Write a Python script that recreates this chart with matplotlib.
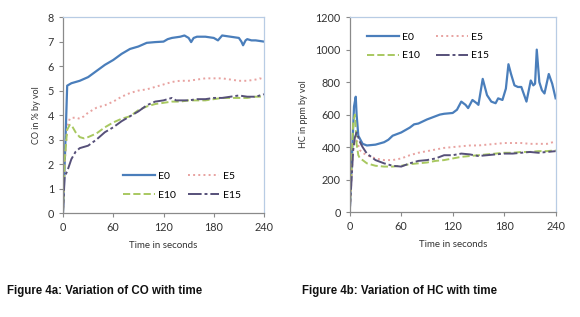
import matplotlib.pyplot as plt

# CO data (% by vol)
co_t_e0 = [0, 3, 5, 10, 20, 30, 40, 50, 60, 70, 80, 90, 100, 110, 120, 125, 130, 140, 145, 150, 153, 156, 160,
           170, 180, 185, 190, 200, 210, 213, 215, 218, 220, 225, 230, 240]
co_e0 = [0, 3.0, 5.2, 5.3, 5.4, 5.55, 5.8, 6.05, 6.25, 6.5, 6.7, 6.8, 6.95, 6.98, 7.0, 7.1, 7.15, 7.2, 7.25, 7.15, 6.98, 7.15, 7.2,
         7.2, 7.15, 7.05, 7.25, 7.2, 7.15, 7.0, 6.85, 7.05, 7.1, 7.05, 7.05, 7.0]
co_t = [0, 2, 5, 8, 10, 15, 20, 25, 30, 40, 50, 60, 70, 80, 90, 100, 110, 120, 130, 135, 140, 150, 160, 170, 180,
        190, 200, 210, 220, 230, 235, 240]
co_e5 = [0, 2.0, 3.5, 3.85, 3.88, 3.9, 3.85, 3.95, 4.1, 4.3, 4.4, 4.55, 4.75, 4.9, 5.0, 5.05, 5.15, 5.25, 5.35, 5.38, 5.4,
         5.4, 5.45, 5.5, 5.5, 5.5, 5.45, 5.4, 5.4, 5.45, 5.5, 5.45]
co_e10 = [0, 2.2, 3.4, 3.6, 3.6, 3.3, 3.1, 3.05, 3.1, 3.25, 3.5, 3.7, 3.85, 3.95, 4.2, 4.35, 4.45, 4.5, 4.55, 4.55, 4.55,
          4.6, 4.6, 4.6, 4.65, 4.7, 4.7, 4.7, 4.7, 4.75, 4.75, 4.75]
co_e15 = [0, 1.5, 1.7, 2.0, 2.2, 2.5, 2.65, 2.7, 2.75, 3.0, 3.3, 3.5, 3.75, 3.95, 4.15, 4.4, 4.55, 4.6, 4.7, 4.6, 4.6,
          4.6, 4.65, 4.65, 4.7, 4.7, 4.75, 4.8, 4.75, 4.75, 4.8, 4.85]

# HC data (ppm by vol)
hc_t_e0 = [0, 3, 5, 7, 8, 10, 15, 20, 30, 40, 45, 50, 60, 70, 75, 80, 90, 100, 105, 110, 120, 125, 130, 135, 138,
           143, 148, 150, 155, 160, 165, 170, 173, 178, 182, 185, 188, 192, 196, 200, 206, 211, 214, 216, 218, 221,
           224, 227, 232, 236, 240]
hc_e0 = [0, 400, 650, 710, 600, 470, 420, 410, 415, 430, 445, 470, 490, 520, 540, 545, 570, 590, 600, 605, 610, 630,
         680, 660, 640, 690, 670, 660, 820, 720, 680, 670, 700, 690, 760, 910, 850, 780, 770, 770, 680, 810, 780,
         790, 1000, 800, 750, 730, 850, 790, 700]
hc_t = [0, 4, 6, 8, 10, 12, 15, 20, 30, 40, 50, 60, 70, 80, 90, 100, 110, 120, 130, 140, 150, 160, 170, 180, 190,
        200, 210, 220, 230, 240]
hc_e5 = [0, 400, 430, 440, 410, 380, 365, 350, 330, 320, 320, 330, 350, 365, 375, 385, 395, 400, 405, 410, 410, 415,
         420, 425, 425, 425, 420, 420, 420, 435]
hc_e10 = [0, 550, 600, 420, 350, 330, 320, 300, 285, 280, 280, 285, 295, 300, 305, 315, 320, 330, 340, 345, 350, 355,
          360, 365, 365, 370, 370, 375, 375, 380]
hc_e15 = [0, 380, 460, 490, 460, 430, 400, 360, 320, 300, 285, 280, 300, 315, 320, 330, 350, 350, 360, 355, 345, 350,
          355, 360, 360, 365, 370, 365, 370, 375]

labels = ['E0', 'E5', 'E10', 'E15']
colors = ['#4a7ebb', '#e8a2a0', '#a8c860', '#565079']
styles = ['-', ':', '--', (0, (7, 1.5, 1.5, 1.5))]

plt.rcParams['font.family'] = ['Lato', 'DejaVu Sans']

fig = plt.figure(figsize=(5.8, 3.17), dpi=100)
ax1 = fig.add_axes([0.1086, 0.328, 0.3466, 0.618])
ax2 = fig.add_axes([0.603, 0.331, 0.355, 0.615])


def style_axes(ax):
    for s in ['top', 'right']:
        ax.spines[s].set_color('#b8cce4')
    for s in ['left', 'bottom']:
        ax.spines[s].set_color('#8a8a8a')
    for s in ax.spines.values():
        s.set_linewidth(0.9)
    ax.tick_params(labelsize=7.8, colors='#8a8a8a', labelcolor='#333333', length=3, width=0.8)
    ax.set_xlim(0, 240)
    ax.set_xticks([0, 60, 120, 180, 240])
    ax.set_xlabel('Time in seconds', fontsize=7, color='#333333', labelpad=6)


def draw(ax, t0, y0, t, ys):
    out = [ax.plot(t0, y0, linestyle=styles[0], color=colors[0], lw=1.6, label=labels[0])[0]]
    for i, y in enumerate(ys, start=1):
        out.append(ax.plot(t, y, linestyle=styles[i], color=colors[i], lw=1.4, label=labels[i])[0])
    return out


h = draw(ax1, co_t_e0, co_e0, co_t, [co_e5, co_e10, co_e15])
style_axes(ax1)
ax1.set_ylim(0, 8)
ax1.set_yticks(range(0, 9))
ax1.set_ylabel('CO in % by vol', fontsize=6.5, color='#333333', labelpad=5)
ax1.legend([h[0], h[2], h[1], h[3]], ['E0', 'E10', 'E5', 'E15'], ncol=2, frameon=False, fontsize=7.5,
           loc='lower right', bbox_to_anchor=(0.93, 0.02), handlelength=3, columnspacing=1.2,
           labelspacing=0.9, handletextpad=0.3)

g = draw(ax2, hc_t_e0, hc_e0, hc_t, [hc_e5, hc_e10, hc_e15])
style_axes(ax2)
ax2.set_ylim(0, 1200)
ax2.set_yticks(range(0, 1201, 200))
ax2.set_ylabel('HC in ppm by vol', fontsize=6.5, color='#333333', labelpad=5)
ax2.legend([g[0], g[2], g[1], g[3]], ['E0', 'E10', 'E5', 'E15'], ncol=2, frameon=False, fontsize=7.5,
           loc='upper left', bbox_to_anchor=(0.04, 0.97), handlelength=3, columnspacing=1.6,
           labelspacing=0.9, handletextpad=0.3)

fig.text(0.012, 0.072, 'Figure 4a: Variation of CO with time', fontsize=8.3, fontweight='bold',
         family='Liberation Sans', color='#111111')
fig.text(0.521, 0.072, 'Figure 4b: Variation of HC with time', fontsize=8.3, fontweight='bold',
         family='Liberation Sans', color='#111111')

fig.savefig('out.png', dpi=100)
